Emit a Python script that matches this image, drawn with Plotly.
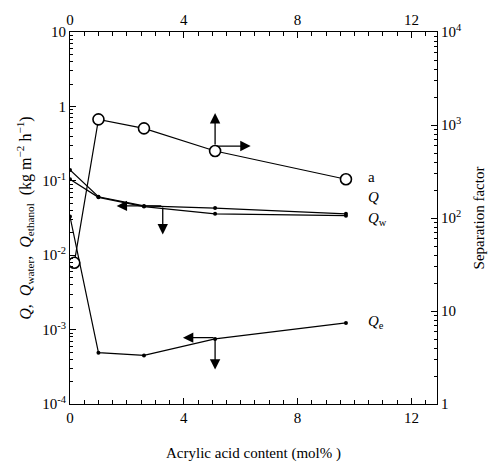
import math
import plotly.graph_objects as go

# data
acrylic = [0.0, 1.0, 2.6, 5.1, 9.7]
Q_total = [0.14, 0.061, 0.046, 0.043, 0.036]
Q_water = [0.105, 0.060, 0.045, 0.036, 0.034]
Q_ethanol = [0.033, 0.00049, 0.00045, 0.00075, 0.00123]
sep_x = [0.15, 1.0, 2.6, 5.1, 9.7]
sep_factor = [33, 1150, 920, 525, 261]

left_ticks = [1e-4, 1e-3, 1e-2, 1e-1, 1, 10]
left_text = ["10<sup>-4</sup>", "10<sup>-3</sup>", "10<sup>-2</sup>", "10<sup>-1</sup>", "1", "10"]
right_ticks = [1, 10, 100, 1000, 10000]
right_text = ["1", "10", "10<sup>2</sup>", "10<sup>3</sup>", "10<sup>4</sup>"]
x_ticks = [0, 4, 8, 12]

FONT = "Liberation Serif"

def minors(lo, hi):
    out = []
    for d in range(lo, hi):
        for m in range(2, 10):
            out.append(m * 10 ** d)
    return out

fig = go.Figure()
line = dict(color="black", width=1.2)
fig.add_trace(go.Scatter(x=acrylic, y=Q_total, mode="lines+markers", line=line,
                         marker=dict(size=4, color="black"), xaxis="x", yaxis="y"))
fig.add_trace(go.Scatter(x=acrylic, y=Q_water, mode="lines+markers", line=line,
                         marker=dict(size=4, color="black"), xaxis="x", yaxis="y"))
fig.add_trace(go.Scatter(x=acrylic, y=Q_ethanol, mode="lines+markers", line=line,
                         marker=dict(size=4, color="black"), xaxis="x", yaxis="y"))
fig.add_trace(go.Scatter(x=sep_x, y=sep_factor, mode="lines+markers", line=line,
                         marker=dict(size=11, color="white", line=dict(color="black", width=1.6)),
                         xaxis="x", yaxis="y2"))

axis_common = dict(showline=True, linecolor="black", linewidth=1.2, mirror=False,
                   ticks="inside", tickcolor="black", showgrid=False, zeroline=False,
                   automargin=False,
                   tickfont=dict(family=FONT, size=15, color="black"))

fig.update_layout(
    width=498, height=467,
    margin=dict(l=70, r=61, t=32, b=63),
    paper_bgcolor="white", plot_bgcolor="white",
    showlegend=False,
    xaxis=dict(range=[0, 12.9], tickvals=x_ticks, ticklen=6,
               minor=dict(dtick=0.5, ticks="inside", ticklen=4, tickcolor="black"),
               title=dict(text="Acrylic acid content (mol% )", standoff=22,
                          font=dict(family=FONT, size=15, color="black")),
               **axis_common),
    xaxis2=dict(range=[0, 12.9], tickvals=x_ticks, ticklen=6, overlaying="x", side="top",
                minor=dict(dtick=0.5, ticks="inside", ticklen=4, tickcolor="black"),
                **axis_common),
    yaxis=dict(type="log", range=[-4, 1], tickvals=left_ticks, ticktext=left_text, ticklen=6,
               minor=dict(tickvals=minors(-4, 1), ticks="inside", ticklen=3, tickcolor="black"),
               title=dict(text="<i>Q</i>,  <i>Q</i><sub>water</sub>,  <i>Q</i><sub>ethanol</sub>  (kg m<sup>−2</sup> h<sup>−1</sup>)",
                          standoff=6, font=dict(family=FONT, size=16, color="black")),
               **axis_common),
    yaxis2=dict(type="log", range=[0, 4], tickvals=right_ticks, ticktext=right_text, ticklen=6,
                overlaying="y", side="right",
                minor=dict(tickvals=minors(0, 4), ticks="inside", ticklen=3, tickcolor="black"),
                title=dict(text="Separation factor", standoff=12,
                           font=dict(family=FONT, size=15, color="black")),
                **axis_common),
)
# dummy trace to show top axis
fig.add_trace(go.Scatter(x=[0], y=[1], xaxis="x2", yaxis="y", mode="markers",
                         marker=dict(opacity=0), hoverinfo="skip"))

def arrow(x0, y0, x1, y1, yref):
    Y0 = math.log10(y0)
    Y1 = math.log10(y1)
    fig.add_annotation(x=x1, y=Y1, ax=x0, ay=Y0, xref="x", yref=yref, axref="x", ayref=yref,
                       showarrow=True, arrowhead=2, arrowsize=1.6, arrowwidth=1.3,
                       arrowcolor="black", text="")

# arrows pointing to the axis each series uses
sx, sy = sep_x[3], 594
arrow(sx, sy, sx, 1345, "y2")
arrow(sx, sy, 6.35, sy, "y2")
qx, qy = 3.26, Q_total[2]
arrow(qx, qy, 1.64, qy, "y")
arrow(qx, qy, qx, 0.019, "y")
ex, ey = acrylic[3], 0.00078
arrow(ex, ey, 3.97, ey, "y")
arrow(ex, ey, ex, 0.00029, "y")

# labels
def label(text, x, y, yref):
    fig.add_annotation(x=x, y=math.log10(y), xref="x", yref=yref, text=text, showarrow=False,
                       xanchor="left", font=dict(family=FONT, size=15, color="black"))

label("a", 10.4, sep_factor[4] * 1.05, "y2")
label("<i>Q</i>", 10.4, 0.061, "y")
label("<i>Q</i><sub>w</sub>", 10.4, 0.031, "y")
label("<i>Q</i><sub>e</sub>", 10.4, 0.00125, "y")

fig.write_html("out.html")
